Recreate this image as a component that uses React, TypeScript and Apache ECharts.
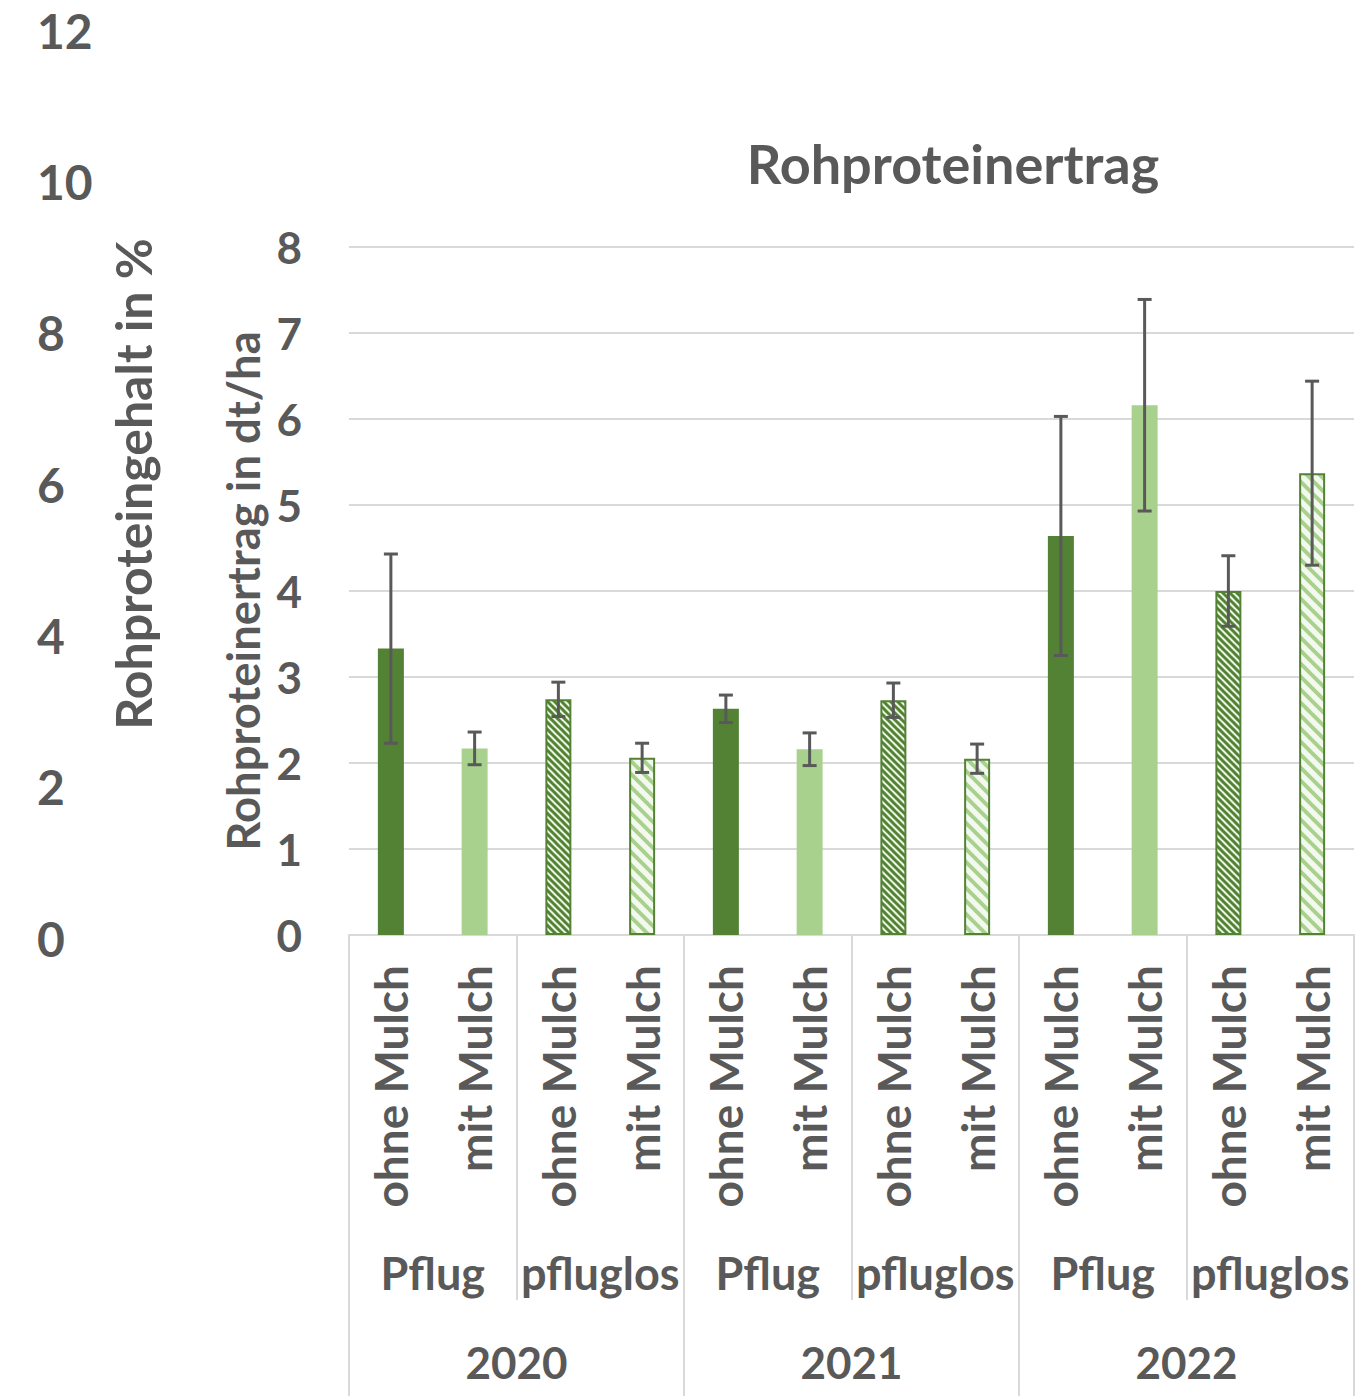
import React, { useEffect, useRef } from 'react';
import * as echarts from 'echarts';

const mulchLabels = [
  'ohne Mulch', 'mit Mulch', 'ohne Mulch', 'mit Mulch',
  'ohne Mulch', 'mit Mulch', 'ohne Mulch', 'mit Mulch',
  'ohne Mulch', 'mit Mulch', 'ohne Mulch', 'mit Mulch',
];
const tillageLabels = ['Pflug', 'pfluglos', 'Pflug', 'pfluglos', 'Pflug', 'pfluglos'];
const yearLabels = ['2020', '2021', '2022'];

// Rohproteinertrag in dt/ha
const yieldValues = [3.33, 2.17, 2.74, 2.06, 2.63, 2.16, 2.73, 2.05, 4.64, 6.16, 4.0, 5.37];
// +/- error
const yieldErrors = [1.1, 0.19, 0.2, 0.17, 0.16, 0.19, 0.2, 0.17, 1.39, 1.23, 0.41, 1.07];

const FONT = 'Lato';
const TEXT = '#595959';
const GRID = '#d9d9d9';
const DARK = '#548235';
const LIGHT = '#a9d18e';

function makeStripes(size: number, lineW: number, bg: string, fg: string) {
  const c = document.createElement('canvas');
  c.width = size;
  c.height = size;
  const ctx = c.getContext('2d')!;
  ctx.fillStyle = bg;
  ctx.fillRect(0, 0, size, size);
  ctx.strokeStyle = fg;
  ctx.lineWidth = lineW;
  for (const x0 of [-size, 0, size]) {
    ctx.beginPath();
    ctx.moveTo(x0 - 1, -1);
    ctx.lineTo(x0 + size + 1, size + 1);
    ctx.stroke();
  }
  return c.toDataURL();
}

export default function App() {
  const ref = useRef<HTMLDivElement>(null);
  useEffect(() => {
    if (!ref.current) return;
    const chart = echarts.init(ref.current, null, { renderer: 'svg' });
    const pat1 = makeStripes(7, 3, '#eaf4e2', DARK);
    const pat2 = makeStripes(13, 4, '#f4f9f0', LIGHT);

    const barData = yieldValues.map((v, i) => {
      const k = i % 4;
      let itemStyle: any;
      if (k === 0) itemStyle = { color: DARK };
      else if (k === 1) itemStyle = { color: LIGHT };
      else if (k === 2)
        itemStyle = {
          color: { image: pat1, repeat: 'repeat', imageWidth: 7, imageHeight: 7 },
          borderColor: DARK,
          borderWidth: 2,
        };
      else
        itemStyle = {
          color: { image: pat2, repeat: 'repeat', imageWidth: 13, imageHeight: 13 },
          borderColor: DARK,
          borderWidth: 2,
        };
      return { value: v, itemStyle };
    });
    const errData = yieldValues.map((v, i) => [i, v - yieldErrors[i], v + yieldErrors[i]]);

    const labelBase = { fontFamily: FONT, fontWeight: 'bold' as const, color: TEXT };

    chart.setOption({
      animation: false,
      backgroundColor: '#ffffff',
      title: {
        text: 'Rohproteinertrag',
        left: 948,
        top: 131,
        textAlign: 'center',
        textStyle: { ...labelBase, fontSize: 54 },
      },
      grid: [
        { left: 349, right: 3, top: 247, bottom: 461 },
        { left: 30, width: 2, top: 30, bottom: 458 },
      ],
      xAxis: [
        {
          type: 'category',
          gridIndex: 0,
          data: mulchLabels,
          position: 'bottom',
          axisLine: { show: true, lineStyle: { color: GRID, width: 2 } },
          axisTick: { show: false },
          axisLabel: { ...labelBase, fontSize: 46, rotate: 90, margin: 30, interval: 0 },
        },
        {
          type: 'category',
          gridIndex: 0,
          data: tillageLabels,
          position: 'bottom',
          axisLine: { show: false },
          axisTick: { show: true, length: 365, interval: 0, lineStyle: { color: GRID, width: 2 } },
          axisLabel: { ...labelBase, fontSize: 45, margin: 315, interval: 0 },
        },
        {
          type: 'category',
          gridIndex: 0,
          data: yearLabels,
          position: 'bottom',
          axisLine: { show: false },
          axisTick: { show: true, length: 470, interval: 0, lineStyle: { color: GRID, width: 2 } },
          axisLabel: { ...labelBase, fontSize: 44, margin: 405, interval: 0 },
        },
        { type: 'category', gridIndex: 1, show: false, data: [''] },
      ],
      yAxis: [
        {
          type: 'value',
          gridIndex: 0,
          min: 0,
          max: 8,
          interval: 1,
          axisLine: { show: false },
          axisTick: { show: false },
          splitLine: { lineStyle: { color: GRID, width: 2 } },
          axisLabel: { ...labelBase, fontSize: 44, margin: 47 },
          name: 'Rohproteinertrag in dt/ha',
          nameLocation: 'middle',
          nameRotate: 90,
          nameGap: 72,
          nameTextStyle: { ...labelBase, fontSize: 45.5 },
        },
        {
          type: 'value',
          gridIndex: 1,
          position: 'right',
          min: 0,
          max: 12,
          interval: 2,
          axisLine: { show: false },
          axisTick: { show: false },
          splitLine: { show: false },
          axisLabel: { ...labelBase, fontSize: 48, margin: 5 },
          name: 'Rohproteingehalt in %',
          nameLocation: 'middle',
          nameRotate: 90,
          nameGap: 76,
          nameTextStyle: { ...labelBase, fontSize: 50 },
        },
      ],
      series: [
        {
          type: 'bar',
          xAxisIndex: 0,
          yAxisIndex: 0,
          barWidth: 26,
          data: barData,
          z: 2,
        },
        {
          type: 'custom',
          xAxisIndex: 0,
          yAxisIndex: 0,
          z: 5,
          data: errData,
          encode: { x: 0, y: [1, 2] },
          renderItem: (params: any, api: any) => {
            const x = api.value(0);
            const lo = api.coord([x, api.value(1)]);
            const hi = api.coord([x, api.value(2)]);
            const hw = 7;
            const style = { stroke: TEXT, lineWidth: 3 };
            return {
              type: 'group',
              children: [
                { type: 'line', shape: { x1: lo[0], y1: lo[1], x2: hi[0], y2: hi[1] }, style },
                { type: 'line', shape: { x1: hi[0] - hw, y1: hi[1], x2: hi[0] + hw, y2: hi[1] }, style },
                { type: 'line', shape: { x1: lo[0] - hw, y1: lo[1], x2: lo[0] + hw, y2: lo[1] }, style },
              ],
            };
          },
        },
      ],
    });
    return () => chart.dispose();
  }, []);
  return (
    <div
      ref={ref}
      style={{ position: 'fixed', left: 0, top: 0, width: 1357, height: 1396, background: '#fff' }}
    />
  );
}
